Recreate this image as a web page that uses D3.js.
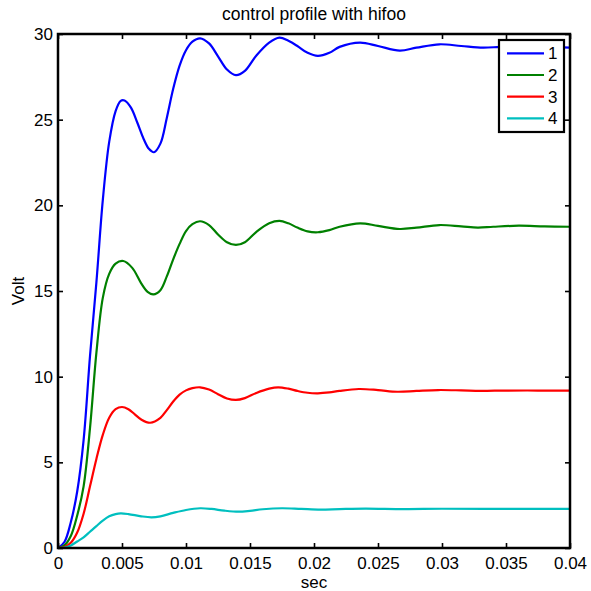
<!DOCTYPE html>
<html>
<head>
<meta charset="utf-8">
<script src="https://cdn.jsdelivr.net/npm/d3@7"></script>
<style>
  html, body { margin: 0; padding: 0; background: #fff; }
  svg { display: block; font-family: "Liberation Sans", Arial, Helvetica, sans-serif; }
</style>
</head>
<body>
<svg id="chart" width="591" height="591"></svg>
<script>
// Step responses of the four outputs under the hifoo controller
const time1 = [0, 0.0005, 0.001, 0.0015, 0.002, 0.0025, 0.003, 0.0035, 0.004, 0.0045, 0.0049, 0.0052, 0.0057, 0.0062, 0.0067, 0.0071, 0.0075, 0.008, 0.0085, 0.009, 0.0095, 0.01, 0.0105, 0.0111, 0.0118, 0.0125, 0.0132, 0.0139, 0.0146, 0.0155, 0.0165, 0.0173, 0.018, 0.0187, 0.0195, 0.0203, 0.0212, 0.022, 0.0236, 0.025, 0.0267, 0.028, 0.0298, 0.0315, 0.0332, 0.0345, 0.036, 0.038, 0.04];
const volt1 = [0, 0.35, 1.5, 3.3, 6.3, 11.2, 15.5, 20.3, 23.7, 25.5, 26.1, 26.12, 25.7, 24.82, 23.86, 23.3, 23.1, 23.6, 25.1, 26.8, 28.15, 29.05, 29.55, 29.75, 29.45, 28.7, 27.93, 27.6, 27.85, 28.75, 29.5, 29.79, 29.6, 29.3, 28.9, 28.72, 28.9, 29.25, 29.5, 29.3, 29.03, 29.2, 29.4, 29.3, 29.2, 29.25, 29.3, 29.25, 29.2];

const time2 = [0, 0.0005, 0.001, 0.0015, 0.002, 0.0025, 0.003, 0.0035, 0.004, 0.0045, 0.0051, 0.0058, 0.0065, 0.007, 0.00745, 0.008, 0.0085, 0.009, 0.0095, 0.01, 0.0105, 0.0111, 0.0118, 0.0125, 0.0132, 0.0139, 0.0146, 0.0155, 0.0165, 0.0173, 0.018, 0.0187, 0.0195, 0.0203, 0.0212, 0.022, 0.0236, 0.025, 0.0267, 0.028, 0.0298, 0.0315, 0.0328, 0.034, 0.036, 0.038, 0.04];
const volt2 = [0, 0.15, 0.7, 1.9, 3.6, 7.0, 11.4, 14.6, 16.0, 16.6, 16.75, 16.35, 15.45, 14.95, 14.8, 15.05, 15.85, 16.85, 17.75, 18.5, 18.9, 19.07, 18.85, 18.3, 17.85, 17.69, 17.85, 18.45, 18.95, 19.09, 18.95, 18.7, 18.48, 18.43, 18.55, 18.75, 18.95, 18.8, 18.62, 18.7, 18.85, 18.77, 18.7, 18.75, 18.81, 18.77, 18.75];

const time3 = [0, 0.0005, 0.001, 0.0015, 0.002, 0.0025, 0.003, 0.0035, 0.004, 0.0045, 0.005, 0.0055, 0.006, 0.0065, 0.0072, 0.008, 0.0085, 0.009, 0.0095, 0.01, 0.0105, 0.0111, 0.0118, 0.0125, 0.0132, 0.0139, 0.0146, 0.0155, 0.0165, 0.0172, 0.018, 0.0187, 0.0195, 0.0203, 0.0212, 0.022, 0.0235, 0.025, 0.0265, 0.028, 0.0297, 0.0315, 0.033, 0.035, 0.0375, 0.04];
const volt3 = [0, 0.05, 0.3, 0.9, 2.0, 3.6, 5.2, 6.6, 7.6, 8.1, 8.23, 8.1, 7.8, 7.5, 7.31, 7.6, 8.05, 8.55, 8.95, 9.2, 9.33, 9.38, 9.25, 8.98, 8.73, 8.64, 8.75, 9.05, 9.3, 9.38, 9.3, 9.17, 9.06, 9.03, 9.08, 9.17, 9.28, 9.22, 9.12, 9.17, 9.22, 9.2, 9.17, 9.19, 9.19, 9.18];

const time4 = [0, 0.0005, 0.001, 0.0015, 0.002, 0.0025, 0.003, 0.0035, 0.004, 0.0045, 0.0049, 0.0055, 0.0065, 0.0073, 0.008, 0.009, 0.01, 0.0111, 0.012, 0.013, 0.0141, 0.015, 0.016, 0.0175, 0.019, 0.0205, 0.022, 0.024, 0.027, 0.03, 0.035, 0.04];
const volt4 = [0, 0.03, 0.15, 0.38, 0.62, 0.95, 1.28, 1.6, 1.85, 1.98, 2.02, 1.98, 1.85, 1.79, 1.85, 2.05, 2.22, 2.32, 2.28, 2.18, 2.12, 2.17, 2.26, 2.32, 2.28, 2.24, 2.27, 2.3, 2.27, 2.29, 2.28, 2.28];

const seriesNames = ["1", "2", "3", "4"];
const seriesColors = ["#0000ff", "#008000", "#ff0000", "#00bfbf"];

const xTicks = [0, 0.005, 0.01, 0.015, 0.02, 0.025, 0.03, 0.035, 0.04];
const xTickLabels = ["0", "0.005", "0.01", "0.015", "0.02", "0.025", "0.03", "0.035", "0.04"];
const yTicks = [0, 5, 10, 15, 20, 25, 30];

const titleText = "control profile with hifoo";
const xLabel = "sec";
const yLabel = "Volt";

const series = [
  { name: seriesNames[0], color: seriesColors[0], t: time1, v: volt1 },
  { name: seriesNames[1], color: seriesColors[1], t: time2, v: volt2 },
  { name: seriesNames[2], color: seriesColors[2], t: time3, v: volt3 },
  { name: seriesNames[3], color: seriesColors[3], t: time4, v: volt4 }
];

const svg = d3.select("#chart");
const margin = { left: 58, top: 34, right: 21, bottom: 43 };
const W = 591, H = 591;
const plotW = W - margin.left - margin.right;
const plotH = H - margin.top - margin.bottom;

const x = d3.scaleLinear().domain([0, 0.04]).range([margin.left, margin.left + plotW]);
const y = d3.scaleLinear().domain([0, 30]).range([margin.top + plotH, margin.top]);

const tickLen = 5;
const fontSize = 17;

// curves, clipped to the axes box
svg.append("clipPath").attr("id", "plotclip")
  .append("rect").attr("x", margin.left).attr("y", margin.top)
  .attr("width", plotW).attr("height", plotH);

const line = d3.line().curve(d3.curveCatmullRom.alpha(0.5));
const curves = svg.append("g").attr("clip-path", "url(#plotclip)");
series.forEach(s => {
  const pts = s.t.map((tv, i) => [x(tv), y(s.v[i])]);
  curves.append("path")
    .attr("d", line(pts))
    .attr("fill", "none")
    .attr("stroke", s.color)
    .attr("stroke-width", 2.2)
    .attr("stroke-linejoin", "round");
});

// axes: labelled bottom/left, mirrored ticks on top/right
const xAxis = d3.axisBottom(x).tickValues(xTicks)
  .tickFormat((d, i) => xTickLabels[i]).tickSizeInner(-tickLen).tickSizeOuter(0).tickPadding(9);
const yAxis = d3.axisLeft(y).tickValues(yTicks)
  .tickFormat(d3.format("d")).tickSizeInner(-tickLen).tickSizeOuter(0).tickPadding(5);
const xTop = d3.axisTop(x).tickValues(xTicks).tickFormat("").tickSizeInner(-tickLen).tickSizeOuter(0);
const yRight = d3.axisRight(y).tickValues(yTicks).tickFormat("").tickSizeInner(-tickLen).tickSizeOuter(0);

function styleAxis(g) {
  g.select(".domain").remove();
  g.selectAll(".tick line").attr("stroke", "#000").attr("stroke-width", 1.6);
  g.selectAll(".tick text").attr("fill", "#000").style("font-size", fontSize + "px")
    .style("font-family", "'Liberation Sans', Arial, Helvetica, sans-serif");
}

svg.append("g").attr("transform", `translate(0,${margin.top + plotH})`).call(xAxis).call(styleAxis);
svg.append("g").attr("transform", `translate(${margin.left},0)`).call(yAxis).call(styleAxis);
svg.append("g").attr("transform", `translate(0,${margin.top})`).call(xTop).call(styleAxis);
svg.append("g").attr("transform", `translate(${margin.left + plotW},0)`).call(yRight).call(styleAxis);

// axes box
svg.append("rect")
  .attr("x", margin.left).attr("y", margin.top)
  .attr("width", plotW).attr("height", plotH)
  .attr("fill", "none").attr("stroke", "#000").attr("stroke-width", 2.5);

// title and axis labels
svg.append("text").attr("x", margin.left + plotW / 2).attr("y", 20)
  .attr("text-anchor", "middle").style("font-size", "17.5px").text(titleText);
svg.append("text").attr("x", margin.left + plotW / 2).attr("y", 588)
  .attr("text-anchor", "middle").style("font-size", fontSize + "px").text(xLabel);
svg.append("text")
  .attr("transform", `translate(24,${margin.top + plotH / 2}) rotate(-90)`)
  .attr("text-anchor", "middle").style("font-size", fontSize + "px").text(yLabel);

// legend
const lg = svg.append("g");
const lgX = 499, lgY = 40, lgW = 65, lgH = 92, rowH = 21.7;
lg.append("rect").attr("x", lgX).attr("y", lgY).attr("width", lgW).attr("height", lgH)
  .attr("fill", "#fff").attr("stroke", "#000").attr("stroke-width", 2.2);
series.forEach((s, i) => {
  const ry = lgY + 13.3 + i * rowH;
  lg.append("line").attr("x1", lgX + 8).attr("x2", lgX + 45).attr("y1", ry).attr("y2", ry)
    .attr("stroke", s.color).attr("stroke-width", 2.2);
  lg.append("text").attr("x", lgX + 49).attr("y", ry + 6)
    .style("font-size", fontSize + "px").text(s.name);
});
</script>
</body>
</html>
